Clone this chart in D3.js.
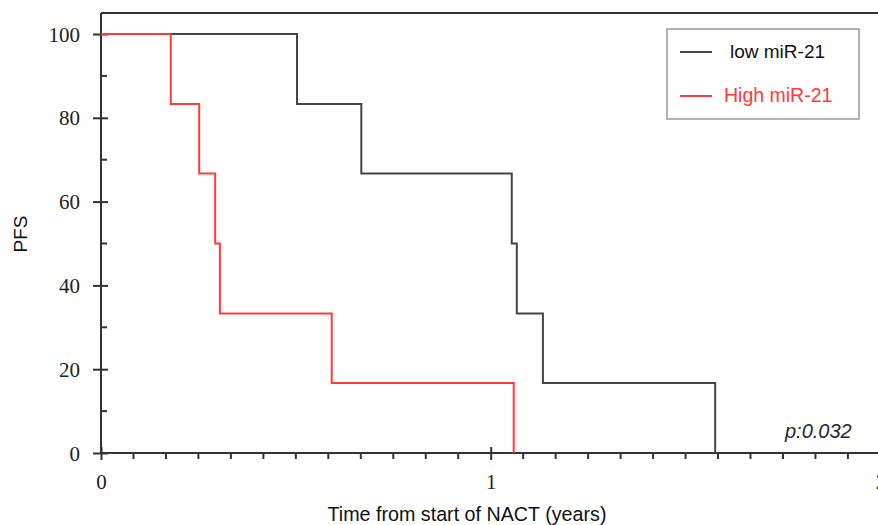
<!DOCTYPE html>
<html>
<head>
<meta charset="utf-8">
<script src="https://cdn.jsdelivr.net/npm/d3@7"></script>
<style>
  body { margin: 0; background: #fff; }
  svg { display: block; }
</style>
</head>
<body>
<div class="km-vis"></div>
<script>
// survival steps (time in years, PFS in %)
var lowTimes = [0, 0.503, 0.668, 1.054, 1.067, 1.134, 1.576];
var lowPfs = [100, 83.3, 66.7, 50, 33.3, 16.7, 0];
var highTimes = [0, 0.179, 0.252, 0.293, 0.305, 0.592, 1.059];
var highPfs = [100, 83.3, 66.7, 50, 33.3, 16.7, 0];

var seriesNames = ["low miR-21", "High miR-21"];
var seriesColors = ["#444444", "#ff3b3b"];

var yMajor = [0, 20, 40, 60, 80, 100];
var yMinor = [10, 30, 50, 70, 90];
var xMajor = [0, 1, 2];
var xMinor = d3.range(1, 24).filter(function (i) { return i % 12 != 0; }).map(function (i) { return i / 12; });

var pValue = "p:0.032";

function plotKM() {

    var width = 878,
        height = 525;

    var x = d3.scaleLinear()
        .domain([0, 2])
        .range([101, 880.4]);

    var y = d3.scaleLinear()
        .domain([0, 100])
        .range([453, 34]);

    var svg = d3.select('.km-vis').append("svg")
        .attr("width", width)
        .attr("height", height);

    var frameColor = "#333";

    // top border line
    svg.append("line")
        .attr("x1", x(0)).attr("x2", width)
        .attr("y1", y(105)).attr("y2", y(105))
        .attr("stroke", frameColor)
        .attr("stroke-width", 2);

    // y axis
    var yAxis = svg.append("g")
        .attr("transform", "translate(" + x(0) + ",0)")
        .call(d3.axisLeft(y).tickValues(yMajor).tickFormat(d3.format("d")).tickSizeOuter(0));
    yAxis.select(".domain").remove();
    yAxis.selectAll(".tick line")
        .attr("x1", -8).attr("x2", 7)
        .attr("stroke", frameColor).attr("stroke-width", 2);
    yAxis.selectAll(".tick text")
        .attr("x", -21)
        .attr("dy", "0.34em")
        .style("font-family", "'Liberation Serif', 'Times New Roman', serif")
        .style("font-size", "21px")
        .attr("fill", "#222");

    svg.append("g")
        .attr("class", "minor")
        .selectAll("line")
        .data(yMinor)
        .enter()
        .append("line")
        .attr("x1", x(0)).attr("x2", x(0) + 6)
        .attr("y1", function (d) { return y(d); })
        .attr("y2", function (d) { return y(d); })
        .attr("stroke", frameColor).attr("stroke-width", 2);

    svg.append("line")
        .attr("x1", x(0)).attr("x2", x(0))
        .attr("y1", y(105)).attr("y2", y(0))
        .attr("stroke", frameColor).attr("stroke-width", 2);

    // x axis
    var xAxis = svg.append("g")
        .attr("transform", "translate(0," + y(0) + ")")
        .call(d3.axisBottom(x).tickValues(xMajor).tickFormat(d3.format("d")).tickSizeOuter(0));
    xAxis.select(".domain").remove();
    xAxis.selectAll(".tick line")
        .attr("y1", -6).attr("y2", 7)
        .attr("stroke", frameColor).attr("stroke-width", 2);
    xAxis.selectAll(".tick text")
        .attr("y", 36)
        .attr("dy", "0")
        .style("font-family", "'Liberation Serif', 'Times New Roman', serif")
        .style("font-size", "21px")
        .attr("fill", "#222");

    svg.append("g")
        .attr("class", "minor")
        .selectAll("line")
        .data(xMinor)
        .enter()
        .append("line")
        .attr("x1", function (d) { return x(d); })
        .attr("x2", function (d) { return x(d); })
        .attr("y1", y(0)).attr("y2", y(0) + 6)
        .attr("stroke", frameColor).attr("stroke-width", 2);

    svg.append("line")
        .attr("x1", x(0)).attr("x2", width)
        .attr("y1", y(0)).attr("y2", y(0))
        .attr("stroke", frameColor).attr("stroke-width", 2);

    // survival curves
    var line = d3.line()
        .x(function (d) { return x(d[0]); })
        .y(function (d) { return y(d[1]); })
        .curve(d3.curveStepAfter);

    var curves = [d3.zip(lowTimes, lowPfs), d3.zip(highTimes, highPfs)];

    svg.selectAll(".km-line")
        .data(curves)
        .enter()
        .append("path")
        .attr("class", "km-line")
        .attr("d", line)
        .attr("fill", "none")
        .attr("stroke", function (d, i) { return seriesColors[i]; })
        .attr("stroke-width", 2);

    // axis titles
    svg.append("text")
        .attr("x", 467)
        .attr("y", 521)
        .attr("text-anchor", "middle")
        .style("font-family", "'Liberation Sans', Arial, sans-serif")
        .style("font-size", "19.7px")
        .attr("fill", "#111")
        .text("Time from start of NACT (years)");

    svg.append("text")
        .attr("transform", "translate(27,234) rotate(-90)")
        .attr("text-anchor", "middle")
        .style("font-family", "'Liberation Sans', Arial, sans-serif")
        .style("font-size", "19px")
        .attr("fill", "#111")
        .text("PFS");

    // p value
    svg.append("text")
        .attr("x", 785)
        .attr("y", 438)
        .style("font-family", "'Liberation Sans', Arial, sans-serif")
        .style("font-style", "italic")
        .style("font-size", "20px")
        .attr("fill", "#1c2733")
        .text(pValue);

    // legend
    var legend = svg.append("g");
    legend.append("rect")
        .attr("x", 667).attr("y", 29)
        .attr("width", 192).attr("height", 90)
        .attr("fill", "#fff")
        .attr("stroke", "#999")
        .attr("stroke-width", 1.5);

    var rows = legend.selectAll(".legend-row")
        .data(seriesNames)
        .enter()
        .append("g")
        .attr("class", "legend-row")
        .attr("transform", function (d, i) { return "translate(0," + (52 + i * 44) + ")"; });

    rows.append("line")
        .attr("x1", 680).attr("x2", 712)
        .attr("stroke", function (d, i) { return seriesColors[i]; })
        .attr("stroke-width", 2);

    rows.append("text")
        .attr("x", function (d, i) { return i == 0 ? 730 : 724; })
        .attr("y", 6)
        .style("font-family", "'Liberation Sans', Arial, sans-serif")
        .style("font-size", function (d, i) { return i == 0 ? "19px" : "19.5px"; })
        .attr("fill", function (d, i) { return i == 0 ? "#111" : seriesColors[i]; })
        .text(function (d) { return d; });
}

plotKM();
</script>
</body>
</html>
